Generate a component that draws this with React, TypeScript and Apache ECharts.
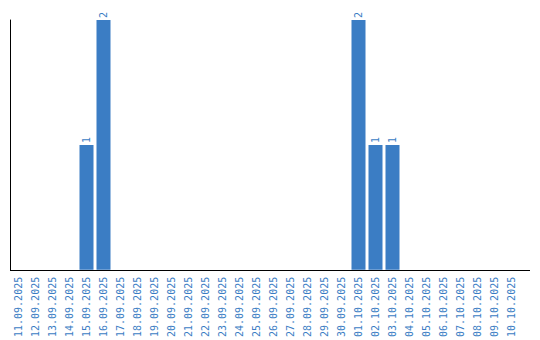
import React, { useEffect, useRef } from "react";
import * as echarts from "echarts";

const categories = [
  "11.09.2025", "12.09.2025", "13.09.2025", "14.09.2025", "15.09.2025",
  "16.09.2025", "17.09.2025", "18.09.2025", "19.09.2025", "20.09.2025",
  "21.09.2025", "22.09.2025", "23.09.2025", "24.09.2025", "25.09.2025",
  "26.09.2025", "27.09.2025", "28.09.2025", "29.09.2025", "30.09.2025",
  "01.10.2025", "02.10.2025", "03.10.2025", "04.10.2025", "05.10.2025",
  "06.10.2025", "07.10.2025", "08.10.2025", "09.10.2025", "10.10.2025",
];
const values = [
  0, 0, 0, 0, 1, 2, 0, 0, 0, 0,
  0, 0, 0, 0, 0, 0, 0, 0, 0, 0,
  2, 1, 1, 0, 0, 0, 0, 0, 0, 0,
];

const BLUE = "#3b7dc4";

export default function App() {
  const ref = useRef<HTMLDivElement>(null);
  useEffect(() => {
    if (!ref.current) return;
    const chart = echarts.init(ref.current, undefined, { renderer: "svg" });
    chart.setOption({
      animation: false,
      grid: { left: 10, right: 20, top: 20, bottom: 70 },
      xAxis: {
        type: "category",
        data: categories,
        axisLine: { show: false },
        axisTick: { show: false },
        axisLabel: {
          interval: 0,
          rotate: 90,
          margin: 7,
          color: BLUE,
          fontFamily: "DejaVu Sans Mono",
          fontSize: 10,
        },
      },
      yAxis: {
        type: "value",
        min: 0,
        max: 2,
        axisLine: { show: true, lineStyle: { color: "#000", width: 1 } },
        axisTick: { show: false },
        axisLabel: { show: false },
        splitLine: { show: false },
      },
      graphic: [
        {
          type: "line",
          shape: { x1: 10, y1: 270.5, x2: 530, y2: 270.5 },
          style: { stroke: "#000", lineWidth: 1 },
        },
      ],
      series: [
        {
          type: "bar",
          data: values.map((v) => (v === 0 ? null : v)),
          barWidth: 14,
          itemStyle: { color: BLUE },
          label: {
            show: true,
            position: "top",
            rotate: 90,
            align: "left",
            verticalAlign: "middle",
            distance: 2,
            color: BLUE,
            fontFamily: "DejaVu Sans Mono",
            fontSize: 10,
          },
        },
      ],
    });
    return () => chart.dispose();
  }, []);
  return (
    <div
      ref={ref}
      style={{ position: "fixed", left: 0, top: 0, width: 540, height: 340, background: "#fff" }}
    />
  );
}
